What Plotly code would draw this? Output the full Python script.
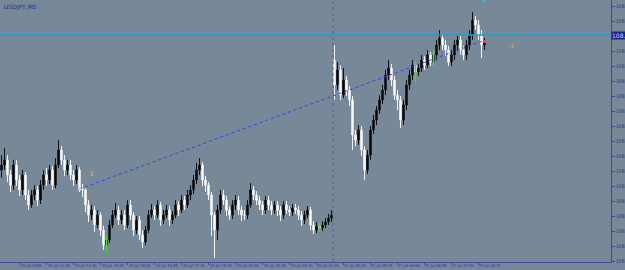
import plotly.graph_objects as go

# ---- data (USDJPY, M5) ----
closes = [
    108.345,108.362,108.312,108.278,108.345,108.295,108.262,108.312,108.245,108.212,
    108.245,108.262,108.228,108.278,108.312,108.295,108.328,108.278,108.345,108.395,
    108.362,108.328,108.345,108.312,108.295,108.328,108.265,108.262,108.212,108.178,
    108.195,108.145,108.178,108.128,108.078,108.095,108.145,108.178,108.195,108.162,
    108.178,108.145,108.212,108.178,108.128,108.162,108.112,108.088,108.128,108.178,
    108.195,108.178,108.212,108.162,108.178,108.195,108.162,108.178,108.212,108.195,
    108.228,108.212,108.245,108.262,108.295,108.328,108.345,108.295,108.278,108.245,
    108.178,108.128,108.195,108.245,108.228,108.195,108.178,108.212,108.228,108.195,
    108.178,108.178,108.212,108.262,108.245,108.228,108.212,108.195,108.228,108.212,
    108.195,108.212,108.195,108.178,108.212,108.195,108.188,108.202,108.195,108.178,
    108.162,108.178,108.195,108.145,108.128,108.142,108.135,108.145,108.155,108.168,
    108.178,108.612,108.662,108.578,108.628,108.595,108.562,108.445,108.428,108.462,
    108.395,108.328,108.378,108.462,108.495,108.528,108.562,108.595,108.645,108.668,
    108.628,108.578,108.562,108.495,108.545,108.612,108.645,108.678,108.655,108.668,
    108.695,108.678,108.712,108.688,108.712,108.745,108.768,108.745,108.728,108.688,
    108.712,108.745,108.762,108.728,108.712,108.745,108.778,108.828,108.812,108.778,
    108.745,108.755,
]
highs = [
    108.378,108.402,108.378,108.328,108.362,108.362,108.312,108.328,108.322,108.262,
    108.262,108.278,108.275,108.295,108.328,108.335,108.345,108.342,108.368,108.428,
    108.408,108.378,108.362,108.362,108.328,108.345,108.338,108.282,108.268,108.228,
    108.212,108.208,108.195,108.188,108.142,108.108,108.162,108.195,108.218,108.208,
    108.195,108.195,108.228,108.228,108.188,108.175,108.175,108.128,108.142,108.195,
    108.215,108.208,108.228,108.222,108.195,108.212,108.208,108.192,108.228,108.225,
    108.245,108.242,108.262,108.278,108.312,108.352,108.368,108.355,108.308,108.288,
    108.255,108.188,108.212,108.262,108.262,108.242,108.208,108.228,108.245,108.242,
    108.208,108.195,108.228,108.285,108.275,108.258,108.242,108.225,108.242,108.242,
    108.225,108.225,108.225,108.208,108.225,108.225,108.208,108.215,108.215,108.208,
    108.192,108.192,108.208,108.205,108.158,108.155,108.155,108.158,108.168,108.182,
    108.195,108.745,108.688,108.678,108.668,108.642,108.608,108.575,108.462,108.478,
    108.475,108.408,108.395,108.475,108.512,108.542,108.578,108.612,108.662,108.695,
    108.682,108.642,108.595,108.575,108.562,108.628,108.662,108.695,108.688,108.682,
    108.712,108.708,108.728,108.722,108.728,108.762,108.795,108.782,108.762,108.742,
    108.728,108.762,108.778,108.775,108.742,108.762,108.795,108.855,108.842,108.828,
    108.795,108.768,
]
lows = [
    108.302,108.328,108.288,108.255,108.262,108.275,108.242,108.245,108.228,108.195,
    108.202,108.228,108.208,108.215,108.262,108.275,108.282,108.262,108.268,108.335,
    108.345,108.308,108.312,108.295,108.275,108.282,108.255,108.238,108.188,108.155,
    108.162,108.122,108.135,108.108,108.062,108.052,108.085,108.135,108.168,108.145,
    108.148,108.128,108.135,108.162,108.108,108.115,108.095,108.068,108.078,108.118,
    108.168,108.162,108.168,108.142,108.148,108.168,108.142,108.148,108.168,108.175,
    108.185,108.195,108.202,108.228,108.248,108.282,108.312,108.275,108.255,108.228,
    108.108,108.035,108.095,108.182,108.212,108.175,108.162,108.165,108.195,108.178,
    108.158,108.162,108.165,108.202,108.228,108.212,108.195,108.178,108.182,108.195,
    108.178,108.182,108.175,108.158,108.165,108.182,108.175,108.175,108.182,108.162,
    108.142,108.148,108.168,108.128,108.115,108.118,108.122,108.125,108.135,108.145,
    108.155,108.562,108.595,108.562,108.568,108.575,108.542,108.395,108.408,108.412,
    108.375,108.295,108.315,108.362,108.448,108.478,108.515,108.548,108.578,108.628,
    108.608,108.562,108.528,108.468,108.478,108.528,108.595,108.628,108.622,108.642,
    108.655,108.662,108.668,108.675,108.675,108.695,108.728,108.728,108.708,108.675,
    108.675,108.695,108.728,108.712,108.695,108.695,108.728,108.762,108.795,108.762,
    108.702,108.728,
]
first_open = 108.328
gap_opens = {111: 108.695}          # session open after the break

green_bars = [35, 106, 138, 144]    # highlighted (signal) bars

y_ticks = [108.875, 108.825, 108.775, 108.725, 108.675, 108.625, 108.575, 108.525,
           108.475, 108.425, 108.375, 108.325, 108.275, 108.225, 108.175, 108.125,
           108.075, 108.025]

x_tick_idx = [6, 15, 24, 33, 42, 51, 60, 69, 78, 87, 96, 105, 114, 123, 132, 141, 150, 159]
x_tick_txt = ["20 Jul 2020", "20 Jul 13:45", "20 Jul 14:30", "20 Jul 15:15", "20 Jul 16:00",
              "20 Jul 16:45", "20 Jul 17:30", "20 Jul 18:15", "20 Jul 19:00", "20 Jul 19:45",
              "20 Jul 20:30", "20 Jul 21:15", "21 Jul 04:30", "21 Jul 05:15", "21 Jul 06:00",
              "21 Jul 06:45", "21 Jul 07:30", "21 Jul 08:15"]

hline_price = 108.778
session_break = 110.5
trend_x = [26, 160]
trend_y = [108.265, 108.757]
label1 = (30, 108.318, "1")
label2 = (170, 108.745, "-1")
red_dot = (161, 108.757)
cyan_dot = (161, 108.892)

# ---- build ----
idx = list(range(len(closes)))
opens = [first_open] + closes[:-1]
for k, v in gap_opens.items():
    opens[k] = v

BG = "#778899"
NAVY = "#2e2e86"
SMALL = "DejaVu Sans Condensed, Liberation Sans Narrow, DejaVu Sans"

fig = go.Figure()
fig.add_trace(go.Candlestick(
    x=idx, open=opens, high=highs, low=lows, close=closes,
    increasing=dict(line=dict(color="#111111", width=1), fillcolor="#000000"),
    decreasing=dict(line=dict(color="#f4f4f4", width=1), fillcolor="#ffffff"),
    whiskerwidth=0, hoverinfo="skip", showlegend=False,
))

# green signal bars
gx, gy = [], []
for i in green_bars:
    gx += [i, i, None]
    gy += [lows[i], highs[i], None]
fig.add_trace(go.Scatter(x=gx, y=gy, mode="lines", line=dict(color="#44dd22", width=1.5),
                         hoverinfo="skip", showlegend=False))

# trend line
fig.add_trace(go.Scatter(x=trend_x, y=trend_y, mode="lines",
                         line=dict(color="#3a3ae8", width=1, dash="dot"),
                         hoverinfo="skip", showlegend=False))
fig.add_trace(go.Scatter(x=[trend_x[0]], y=[trend_y[0]], mode="markers",
                         marker=dict(color="#c8c8ff", size=3, symbol="square"),
                         hoverinfo="skip", showlegend=False))
fig.add_trace(go.Scatter(x=[red_dot[0]], y=[red_dot[1]], mode="markers",
                         marker=dict(color="#ff4040", size=3, symbol="square"),
                         hoverinfo="skip", showlegend=False))
fig.add_trace(go.Scatter(x=[cyan_dot[0]], y=[cyan_dot[1]], mode="markers",
                         marker=dict(color="#20c0ff", size=3, symbol="square"),
                         hoverinfo="skip", showlegend=False))

fig.add_hline(y=hline_price, line=dict(color="#1e9ed8", width=1.5))
fig.add_vline(x=session_break, line=dict(color="#5858b8", width=1, dash="dot"))

fig.add_annotation(x=label1[0], y=label1[1], text=label1[2], showarrow=False,
                   font=dict(family="DejaVu Sans", size=6, color="#e0d040"))
fig.add_annotation(x=label2[0], y=label2[1], text=label2[2], showarrow=False,
                   font=dict(family="DejaVu Sans", size=6, color="#e0b040"))

# price box on the axis (covers the tick label underneath, as in the terminal)
fig.add_annotation(x=1.0, xref="paper", y=hline_price, yref="y", xanchor="left",
                   text=f"{hline_price:.3f}", showarrow=False, bgcolor="#22228a",
                   borderpad=0, font=dict(family="DejaVu Sans", size=6, color="#d0d0ff"))

# symbol label
fig.add_annotation(x=0, xref="paper", y=1, yref="paper", xanchor="left", yanchor="top",
                   text="USDJPY,M5", showarrow=False, xshift=2, yshift=-1,
                   font=dict(family="DejaVu Sans", size=6, color=NAVY))

# time labels (terminal style: text starts right of the tick)
for xv, txt in zip(x_tick_idx, x_tick_txt):
    fig.add_annotation(x=xv, xref="x", y=0, yref="paper", xanchor="left", yanchor="top",
                       text=txt, showarrow=False, xshift=0, yshift=0, borderpad=0,
                       font=dict(family=SMALL, size=4, color=NAVY))

y_labels = [("" if abs(v - hline_price) < 0.01 else f"{v:.3f}") for v in y_ticks]

fig.update_layout(
    width=625, height=270,
    margin=dict(l=0, r=14, t=0, b=8),
    paper_bgcolor=BG, plot_bgcolor=BG,
    showlegend=False,
    font=dict(family="DejaVu Sans", size=6, color=NAVY),
    xaxis=dict(range=[-0.5, 203.17], rangeslider=dict(visible=False), showgrid=False,
               zeroline=False, showline=True, linecolor="#4646a0", linewidth=1,
               tickmode="array", tickvals=x_tick_idx, showticklabels=False,
               ticks="outside", ticklen=2, tickcolor="#4646a0", automargin=False),
    yaxis=dict(range=[108.0217, 108.895], side="right", showgrid=False, zeroline=False,
               showline=True, linecolor="#4646a0", linewidth=1,
               tickmode="array", tickvals=y_ticks, ticktext=y_labels,
               ticks="outside", ticklen=3, tickcolor="#4646a0", automargin=False,
               tickfont=dict(family=SMALL, size=5, color=NAVY)),
)

fig.write_html("out.html")
